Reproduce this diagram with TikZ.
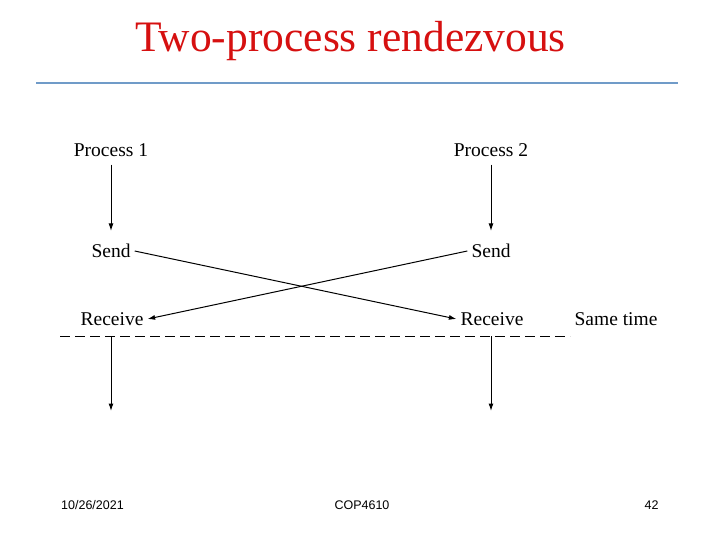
\documentclass[tikz,border=0pt]{standalone}
\usepackage{fontspec}
\setmainfont{Liberation Serif}
\newfontfamily\footfont{Liberation Sans}
\usetikzlibrary{arrows.meta}

\definecolor{titlered}{RGB}{214,16,16}
\definecolor{ruleblue}{RGB}{112,155,200}

\begin{document}
\begin{tikzpicture}[x=1pt, y=-1pt,
    lbl/.style={font=\fontsize{19.5}{20}\selectfont, inner sep=4pt},
    foot/.style={font=\footfont\fontsize{12.5}{13}\selectfont},
    msg/.style={-{Latex[length=7.5pt,width=5pt]}, line width=1pt},
  line join=round]

  \useasboundingbox (0,0) rectangle (720,540);

  % Title
  \node (title) [text=titlered, font=\fontsize{43.5}{45}\selectfont] at (350.5,41) {Two-process rendezvous};
  \draw [ruleblue, line width=2pt] (36,83) coordinate (rl) -- (678,83) coordinate (rr);

  % Labels
  \node (p1) [lbl] at (111,150) {Process 1};
  \node (p2) [lbl] at (491,150) {Process 2};
  \node (s1) [lbl] at (111,251) {Send};
  \node (s2) [lbl] at (491,251) {Send};
  \node (r1) [lbl] at (112,319) {Receive};
  \node (r2) [lbl] at (492,319) {Receive};
  \node (same) [lbl] at (616,319) {Same time};

  % Time lines
  \draw [msg, shorten <=4pt, shorten >=9pt] (p1.south) -- (s1.north);
  \draw [msg, shorten <=4pt, shorten >=9pt] (p2.south) -- (s2.north);

  % Messages
  \draw [msg] (s1.east) -- (r2.west);
  \draw [msg] (s2.west) -- (r1.east);

  % Same time
  \draw [line width=1pt, dash pattern=on 10pt off 5pt] (60,336) coordinate (dl) -- (570,336) coordinate (dr);
  \foreach \n/\x in {1/111, 2/491}{%
    \coordinate (e\n) at (\x,336);
    \coordinate (f\n) at (\x,411);
    \draw [msg] (e\n) -- (f\n);
  }

  % Footer
  \node (date) [foot] at (92.5,505) {10/26/2021};
  \node (course) [foot] at (362,505) {COP4610};
  \node (page) [foot] at (651.5,505) {42};

\end{tikzpicture}
\end{document}
